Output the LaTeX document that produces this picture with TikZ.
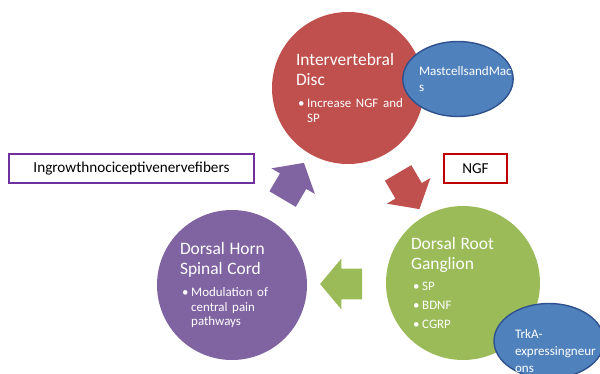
\documentclass[tikz,border=0pt]{standalone}
\usepackage{fontspec}
\setmainfont{Carlito}
\usepackage{xcolor}
\usepackage{tikz}
\usetikzlibrary{shapes,arrows,positioning,calc}

\definecolor{discred}{HTML}{C0504D}
\definecolor{drggreen}{HTML}{9BBB59}
\definecolor{hornpurple}{HTML}{8064A2}
\definecolor{cellblue}{HTML}{4F81BD}
\definecolor{cellline}{HTML}{2F528F}
\definecolor{boxpurple}{HTML}{7030A0}
\definecolor{boxred}{HTML}{C00000}

\newcommand{\hd}{\fontsize{12.4}{14.2}\selectfont}
\newcommand{\bl}{\fontsize{9.2}{10.4}\selectfont}
\newcommand{\bitem}{\hspace*{1.5pt}\makebox[6.5pt][l]{\textbullet}}
\newcommand{\bind}{\hspace*{8pt}}

\begin{document}
\begin{tikzpicture}[
    circ/.style={circle, minimum size=3.8cm, inner sep=0pt, text width=2.6cm, align=left, text=white},
    cellblob/.style={ellipse, draw=cellline, line width=1pt, fill=cellblue, minimum width=2.75cm, minimum height=1.875cm, inner sep=0pt, text=white, align=left, font=\fontsize{9.3}{12}\selectfont},
    tagbox/.style={rectangle, draw, line width=1.6pt, fill=white, minimum height=0.725cm, inner sep=0pt, font=\fontsize{10.8}{12}\selectfont},
    blockarrow/.style={single arrow, inner xsep=0pt, inner ysep=0.375cm, minimum height=1.05cm, minimum width=1.25cm, single arrow head extend=0.25cm, single arrow tip angle=100}
]
    \useasboundingbox (0,0) rectangle (15,9.35);

    % Cycle of tissues
    \node (disc) at (8.7, 7.15) [circ, fill=discred] {{\hd Intervertebral\\Disc\par}\vspace{5pt}{\bl\bitem\mbox{Increase NGF and}\\\bind SP\par}};
    \node (drg) at (11.575, 2.275) [circ, fill=drggreen, minimum size=3.85cm] {{\hd Dorsal Root\\Ganglion\par}\vspace{5pt}{\bl\bitem SP\\[3pt]\bitem BDNF\\[3pt]\bitem CGRP\par}};
    \node (horn) at (5.8, 2.225) [circ, fill=hornpurple, minimum size=3.75cm] {{\hd Dorsal Horn\\Spinal Cord\par}\vspace{5.5pt}{\bl\bitem\mbox{Modulation of}\\\bind\mbox{central pain}\\\bind pathways\par}};

    % Cell populations
    \node (mast) at (11.45, 7.375) [cellblob, text width=1.95cm] {\mbox{MastcellsandMac}\\s};
    \node (trka) at (13.725, 0.825) [cellblob, text width=1.7cm] {TrkA-\\\mbox{expressingneur}\\ons\par\vspace{-14pt}};

    % Labels
    \node (fibers) at (3.2875, 5.1375) [tagbox, draw=boxpurple, minimum width=6.125cm] {Ingrowthnociceptivenervefibers};
    \node (ngf) at (11.8875, 5.1375) [tagbox, draw=boxred, minimum width=1.575cm] {NGF};

    % Block arrows between tissues
    \node (a1) at ($(disc)!0.5!(drg)$) [blockarrow, fill=discred, rotate=-59.5] {};
    \node (a2) at ($(drg)!0.5!(horn)$) [blockarrow, fill=drggreen, rotate=180] {};
    \node (a3) at ($(horn)!0.5!(disc)$) [blockarrow, fill=hornpurple, rotate=59.5] {};
\end{tikzpicture}
\end{document}
